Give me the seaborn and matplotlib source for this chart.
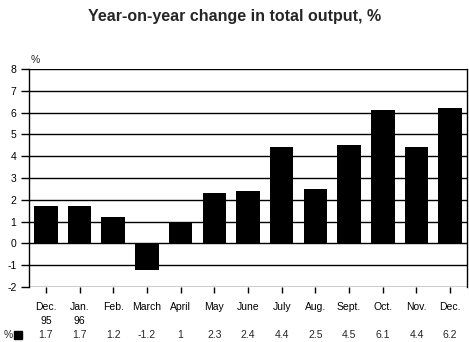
import matplotlib
matplotlib.use("Agg")
import matplotlib.pyplot as plt
import seaborn as sns
import pandas as pd
from matplotlib.transforms import blended_transform_factory

months = ["Dec.\n95", "Jan.\n96", "Feb.", "March", "April", "May", "June",
          "July", "Aug.", "Sept.", "Oct.", "Nov.", "Dec."]
values = [1.7, 1.7, 1.2, -1.2, 1, 2.3, 2.4, 4.4, 2.5, 4.5, 6.1, 4.4, 6.2]
value_labels = ["1.7", "1.7", "1.2", "-1.2", "1", "2.3", "2.4", "4.4", "2.5",
                "4.5", "6.1", "4.4", "6.2"]
yticks = list(range(-2, 9))

sns.set_theme(style="white")
plt.rcParams['font.family'] = ['Liberation Sans', 'DejaVu Sans']

df = pd.DataFrame({"month": months, "value": values})

W, H = 469, 342
fig = plt.figure(figsize=(W / 100, H / 100), dpi=100)
ax = fig.add_axes([29 / W, (H - 287) / H, (467 - 29) / W, (287 - 69) / H])

for y in yticks:
    ax.axhline(y, color="black", linewidth=1.0, zorder=0)

sns.barplot(data=df, x="month", y="value", color="black", width=0.7,
            saturation=1, ax=ax, zorder=2)
for p in ax.patches:
    p.set_edgecolor("black")
    p.set_linewidth(0)

ax.set_ylim(-2, 8)
ax.set_xlim(-0.5, len(months) - 0.5)
ax.set_yticks(yticks)
ax.set_yticklabels([str(y) for y in yticks], fontsize=7.5)
ax.set_xticks(range(len(months)))
ax.set_xticklabels(months, fontsize=7.5, linespacing=1.6, va="top")
ax.set_xlabel("")
ax.set_ylabel("")

for s in ["left", "right", "top", "bottom"]:
    ax.spines[s].set_visible(False)
ax.spines["left"].set_visible(True)
ax.spines["right"].set_visible(True)
ax.spines["left"].set_color("black")
ax.spines["right"].set_color("black")
ax.spines["left"].set_linewidth(1.0)
ax.spines["right"].set_linewidth(1.0)

ax.tick_params(axis="y", direction="out", length=6, width=1, color="black",
               left=True, pad=3, labelcolor="black")
ax.tick_params(axis="x", direction="out", length=4.5, width=1, color="black",
               bottom=True, pad=6, labelcolor="black")

ax.text(0.003, 8.2, "%", fontsize=7.5, ha="left", va="bottom",
        transform=blended_transform_factory(ax.transAxes, ax.transData))

# data table row
trans = blended_transform_factory(ax.transData, fig.transFigure)
ty = 1 - 335 / H
for i, lab in enumerate(value_labels):
    ax.text(i, ty, lab, fontsize=7.5, ha="center", va="center", transform=trans)
fig.text(4 / W, ty, "%", fontsize=7.5, ha="left", va="center")
fig.patches.append(plt.Rectangle((14 / W, 1 - 339 / H), 8 / W, 8 / H,
                                 transform=fig.transFigure, color="black",
                                 figure=fig))

fig.text(0.5, 1 - 16 / H, "Year-on-year change in total output, %",
         fontsize=11.5, ha="center", va="center", fontweight="bold")

fig.savefig("out.png", dpi=100)
